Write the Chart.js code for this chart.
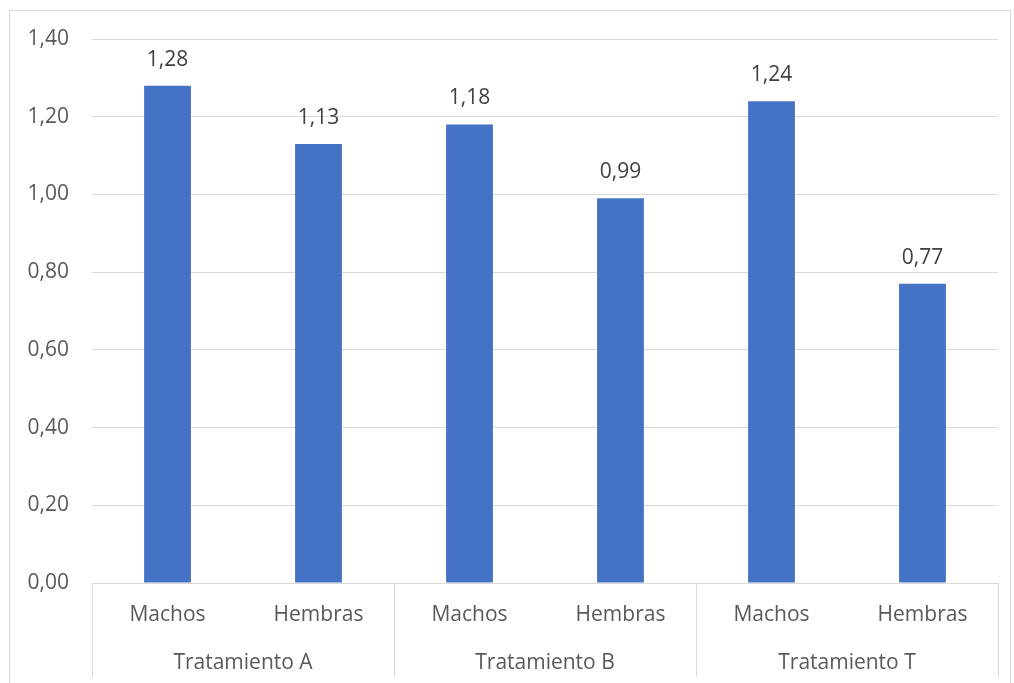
<!DOCTYPE html>
<html>
<head>
<meta charset="utf-8">
<script src="https://cdn.jsdelivr.net/npm/chart.js@4.4.1/dist/chart.umd.min.js"></script>
<style>
  html, body { margin: 0; padding: 0; background: #fff; }
  #wrap { width: 1014px; height: 683px; }
</style>
</head>
<body>
<div id="wrap"><canvas id="myChart" width="1014" height="683"></canvas></div>
<script>
const categories = ['Machos', 'Hembras', 'Machos', 'Hembras', 'Machos', 'Hembras'];
const groups = ['Tratamiento A', 'Tratamiento B', 'Tratamiento T'];
const values = [1.28, 1.13, 1.18, 0.99, 1.24, 0.77];
const yTicks = [0, 0.2, 0.4, 0.6, 0.8, 1.0, 1.2, 1.4];

const FONT = "'Open Sans', 'Noto Sans', sans-serif";
const FONT_SIZE = 21;
const GRID = '#d9d9d9';

function fmt(v) {
    return v.toFixed(2).replace('.', ',');
}

// outer frame of the chart
const framePlugin = {
    id: 'frame',
    beforeDraw(chart) {
        const ctx = chart.ctx;
        ctx.save();
        ctx.fillStyle = '#fff';
        ctx.fillRect(0, 0, chart.width, chart.height);
        ctx.strokeStyle = GRID;
        ctx.lineWidth = 1;
        ctx.strokeRect(9.5, 10.5, 1001, 700);
        ctx.restore();
    }
};

// value labels above the bars
const valueLabels = {
    id: 'valueLabels',
    afterDatasetsDraw(chart) {
        const ctx = chart.ctx;
        const meta = chart.getDatasetMeta(0);
        ctx.save();
        ctx.font = FONT_SIZE + 'px ' + FONT;
        ctx.fillStyle = '#404040';
        ctx.textAlign = 'center';
        ctx.textBaseline = 'middle';
        meta.data.forEach((bar, i) => {
            ctx.fillText(fmt(values[i]), bar.x, bar.y - 26);
        });
        ctx.restore();
    }
};

// second level of the category axis: separators and group names
const groupAxis = {
    id: 'groupAxis',
    afterDraw(chart) {
        const ctx = chart.ctx;
        const x = chart.scales.x;
        const top = chart.chartArea.bottom;
        const per = categories.length / groups.length;
        const step = (x.right - x.left) / categories.length;
        ctx.save();
        ctx.strokeStyle = GRID;
        ctx.lineWidth = 1;
        for (let g = 0; g <= groups.length; g++) {
            const px = Math.round(x.left + g * per * step) + 0.5;
            ctx.beginPath();
            ctx.moveTo(px, top);
            ctx.lineTo(px, top + 94);
            ctx.stroke();
        }
        ctx.font = FONT_SIZE + 'px ' + FONT;
        ctx.fillStyle = '#595959';
        ctx.textAlign = 'center';
        ctx.textBaseline = 'middle';
        groups.forEach((name, g) => {
            const cx = x.left + (g + 0.5) * per * step;
            ctx.fillText(name, cx, top + 80);
        });
        ctx.restore();
    }
};

const ctx = document.getElementById('myChart').getContext('2d');

new Chart(ctx, {
    type: 'bar',
    data: {
        labels: categories,
        datasets: [{
            data: values,
            backgroundColor: '#4472c4',
            barPercentage: 0.31,
            categoryPercentage: 1.0
        }]
    },
    options: {
        responsive: false,
        animation: false,
        layout: {
            padding: { left: 0, right: 16, top: 39, bottom: 0 }
        },
        plugins: {
            legend: { display: false },
            tooltip: { enabled: false }
        },
        scales: {
            x: {
                grid: { display: false, drawTicks: false },
                border: { display: true, color: GRID },
                ticks: {
                    color: '#595959',
                    font: { family: FONT, size: FONT_SIZE },
                    padding: 19,
                    maxRotation: 0
                },
                afterFit(scale) { scale.height = 100; }
            },
            y: {
                min: 0,
                max: 1.4,
                afterBuildTicks(scale) {
                    scale.ticks = yTicks.map(v => ({ value: v }));
                },
                grid: { color: GRID, drawTicks: false },
                border: { display: false },
                ticks: {
                    color: '#595959',
                    font: { family: FONT, size: FONT_SIZE },
                    padding: 23,
                    callback: v => fmt(v)
                },
                afterFit(scale) { scale.width = 92; }
            }
        }
    },
    plugins: [framePlugin, valueLabels, groupAxis]
});
</script>
</body>
</html>
